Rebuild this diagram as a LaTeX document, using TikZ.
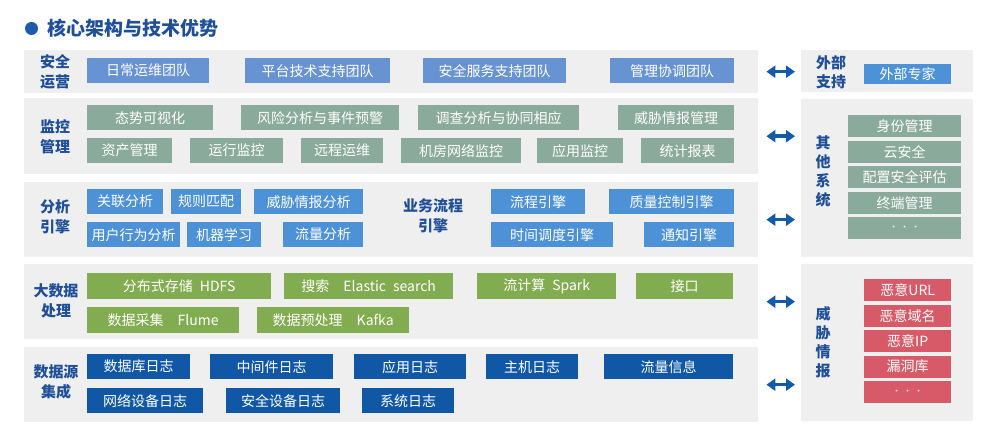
\documentclass[tikz,border=0pt]{standalone}
\usepackage{fontspec}
\setmainfont{Noto Sans CJK SC}
\usepackage{xcolor}
\usepackage{tikz}
\usetikzlibrary{arrows.meta}
\definecolor{bandgray}{HTML}{EFEFEF}
\definecolor{labelblue}{HTML}{1E4F98}
\definecolor{titleblue}{HTML}{1E5BAA}
\definecolor{teamblue}{HTML}{6893D2}
\definecolor{mongreen}{HTML}{8AAA9B}
\definecolor{engblue}{HTML}{4D92D6}
\definecolor{datgreen}{HTML}{82AC50}
\definecolor{srcblue}{HTML}{1058A6}
\definecolor{intelred}{HTML}{D65A68}
\definecolor{arrowblue}{HTML}{145AAA}

\begin{document}
\begin{tikzpicture}[x=1pt, y=-1pt,
    band/.style={anchor=north west, inner sep=0pt, fill=bandgray},
    box/.style={anchor=north west, inner sep=0pt, minimum height=25pt, text=white,
      font=\fontsize{14}{16}\selectfont},
    teambox/.style={box, fill=teamblue},
    monbox/.style={box, fill=mongreen},
    engbox/.style={box, fill=engblue},
    datbox/.style={box, fill=datgreen, minimum height=26pt},
    srcbox/.style={box, fill=srcblue},
    sidebox/.style={box, minimum height=22pt},
    layer/.style={align=center, text=labelblue, font=\fontsize{15}{20}\selectfont\bfseries},
    sidelabel/.style={align=center, text=labelblue, font=\fontsize{15}{19}\selectfont\bfseries},
    biarrow/.style={arrowblue, line width=3.5pt,
      {Triangle[length=9pt,width=12pt]}-{Triangle[length=9pt,width=12pt]},
      shorten <=8pt, shorten >=6pt}]
  \useasboundingbox (0,0) rectangle (986,435);

  % Title
  \fill[titleblue] (31.5,28.5) circle (6.5pt);
  \node[anchor=west, text=labelblue, font=\fontsize{19}{22}\selectfont\bfseries] (title) at (44,28) {核心架构与技术优势};

  % Layer bands
  \node[band, minimum width=734pt, minimum height=43pt] (ops) at (24,50) {};
  \node[band, minimum width=734pt, minimum height=76pt] (mon) at (24,98) {};
  \node[band, minimum width=734pt, minimum height=75pt] (eng) at (24,182) {};
  \node[band, minimum width=734pt, minimum height=75pt] (bdp) at (24,264) {};
  \node[band, minimum width=734pt, minimum height=75pt] (src) at (24,347) {};
  \node[band, minimum width=172pt, minimum height=42pt] (ext) at (801,50) {};
  \node[band, minimum width=172pt, minimum height=158pt] (other) at (801,99) {};
  \node[band, minimum width=172pt, minimum height=157pt] (intel) at (801,264) {};

  % Layer labels
  \node[layer] (opslabel) at (55,72) {安全\\运营};
  \node[layer] (monlabel) at (55,137) {监控\\管理};
  \node[layer] (englabel) at (55,217) {分析\\引擎};
  \node[layer] (bdplabel) at (56,301) {大数据\\处理};
  \node[layer] (srclabel) at (56,382) {数据源\\集成};
  \node[layer] (flowlabel) at (433,216) {业务流程\\引擎};

  % Security operations
  \node[teambox, minimum width=122pt] (t1) at (87,58) {日常运维团队};
  \node[teambox, minimum width=145pt] (t2) at (245,58) {平台技术支持团队};
  \node[teambox, minimum width=143pt] (t3) at (423,58) {安全服务支持团队};
  \node[teambox, minimum width=124pt] (t4) at (610,58) {管理协调团队};

  % Monitoring
  \node[monbox, minimum width=126pt] (m1) at (87,105) {态势可视化};
  \node[monbox, minimum width=158pt] (m2) at (241,105) {风险分析与事件预警};
  \node[monbox, minimum width=161pt] (m3) at (418,105) {调查分析与协同相应};
  \node[monbox, minimum width=116pt] (m4) at (618,105) {威胁情报管理};
  \node[monbox, minimum width=85pt] (m5) at (87,138) {资产管理};
  \node[monbox, minimum width=93pt] (m6) at (190,138) {运行监控};
  \node[monbox, minimum width=82pt] (m7) at (301,138) {远程运维};
  \node[monbox, minimum width=120pt] (m8) at (401,138) {机房网络监控};
  \node[monbox, minimum width=86pt] (m9) at (537,138) {应用监控};
  \node[monbox, minimum width=93pt] (m10) at (641,138) {统计报表};

  % Analysis engines
  \node[engbox, minimum width=76pt] (e1) at (87,189) {关联分析};
  \node[engbox, minimum width=70pt] (e2) at (171,189) {规则匹配};
  \node[engbox, minimum width=109pt] (e3) at (254,189) {威胁情报分析};
  \node[engbox, minimum width=93pt] (e4) at (87,222) {用户行为分析};
  \node[engbox, minimum width=74pt] (e5) at (187,222) {机器学习};
  \node[engbox, minimum width=80pt] (e6) at (283,222) {流量分析};
  \node[engbox, minimum width=94pt] (f1) at (491,189) {流程引擎};
  \node[engbox, minimum width=125pt] (f2) at (609,189) {质量控制引擎};
  \node[engbox, minimum width=122pt] (f3) at (491,222) {时间调度引擎};
  \node[engbox, minimum width=90pt] (f4) at (644,222) {通知引擎};

  % Big data processing
  \node[datbox, minimum width=184pt] (d1) at (87,273) {分布式存储\enspace HDFS};
  \node[datbox, minimum width=169pt] (d2) at (284,273) {搜索\quad Elastic\enspace search};
  \node[datbox, minimum width=139pt] (d3) at (477,273) {流计算\enspace Spark};
  \node[datbox, minimum width=97pt] (d4) at (636,273) {接口};
  \node[datbox, minimum width=152pt] (d5) at (87,307) {数据采集\quad Flume};
  \node[datbox, minimum width=152pt] (d6) at (257,307) {数据预处理\quad Kafka};

  % Data sources
  \node[srcbox, minimum width=103pt] (s1) at (87,354) {数据库日志};
  \node[srcbox, minimum width=123pt] (s2) at (210,354) {中间件日志};
  \node[srcbox, minimum width=112pt] (s3) at (354,354) {应用日志};
  \node[srcbox, minimum width=92pt] (s4) at (486,354) {主机日志};
  \node[srcbox, minimum width=129pt] (s5) at (604,354) {流量信息};
  \node[srcbox, minimum width=116pt] (s6) at (87,388) {网络设备日志};
  \node[srcbox, minimum width=114pt] (s7) at (226,388) {安全设备日志};
  \node[srcbox, minimum width=92pt] (s8) at (362,388) {系统日志};

  % External support
  \node[sidelabel] (extlabel) at (831,72) {外部\\支持};
  \node[sidebox, fill=engblue, minimum width=87pt, minimum height=20pt] (x1) at (864,64) {外部专家};

  % Other systems
  \node[sidelabel] (otherlabel) at (823,171) {其\\他\\系\\统};
  \node[sidebox, fill=mongreen, minimum width=113pt] (o1) at (848,115) {身份管理};
  \node[sidebox, fill=mongreen, minimum width=113pt] (o2) at (848,140.5) {云安全};
  \node[sidebox, fill=mongreen, minimum width=113pt] (o3) at (848,166) {配置安全评估};
  \node[sidebox, fill=mongreen, minimum width=113pt] (o4) at (848,191.5) {终端管理};
  \node[sidebox, fill=mongreen, minimum width=113pt, text=white!85!mongreen] (o5) at (848,217) {\fontsize{9}{9}\selectfont · · ·};

  % Threat intelligence
  \node[sidelabel] (intellabel) at (823,342) {威\\胁\\情\\报};
  \node[sidebox, fill=intelred, minimum width=87pt] (i1) at (864,279) {恶意URL};
  \node[sidebox, fill=intelred, minimum width=87pt] (i2) at (864,304.5) {恶意域名};
  \node[sidebox, fill=intelred, minimum width=87pt] (i3) at (864,330) {恶意IP};
  \node[sidebox, fill=intelred, minimum width=87pt] (i4) at (864,355.5) {漏洞库};
  \node[sidebox, fill=intelred, minimum width=87pt, text=white!80!intelred] (i5) at (864,381) {\fontsize{9}{9}\selectfont · · ·};

  % Arrows
  \draw[biarrow] (ops.east) -- (ops.east -| ext.west);
  \draw[biarrow] (mon.east) -- (mon.east -| other.west);
  \draw[biarrow] (eng.east) -- (eng.east -| other.west);
  \draw[biarrow] (bdp.east) -- (bdp.east -| intel.west);
  \draw[biarrow] (src.east) -- (src.east -| intel.west);
\end{tikzpicture}
\end{document}
